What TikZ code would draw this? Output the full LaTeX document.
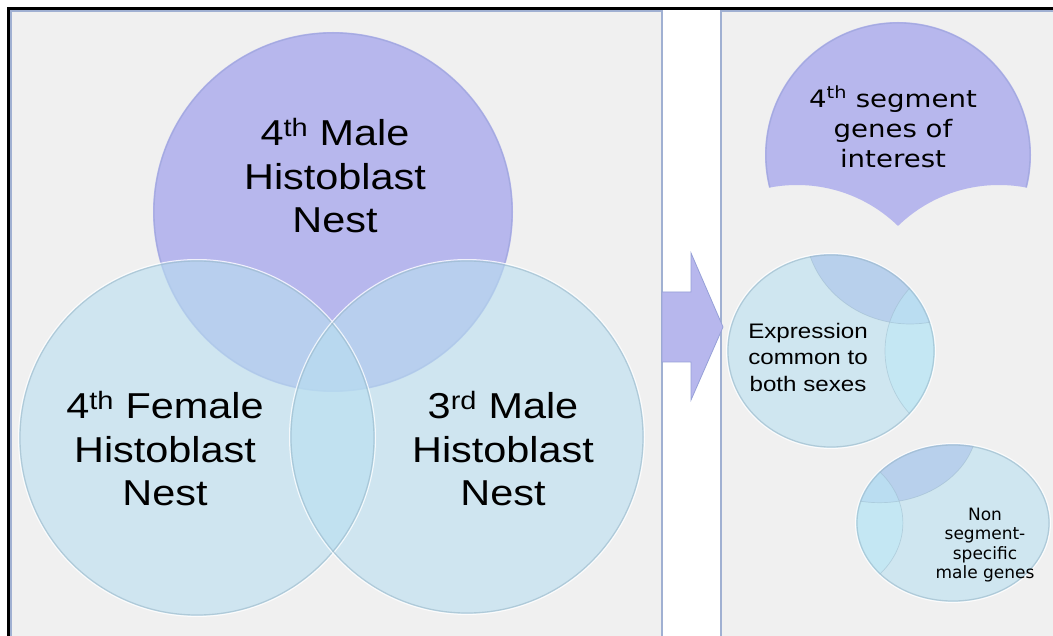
\documentclass[tikz,border=0pt]{standalone}
\usepackage{fontspec}
\setmainfont{Liberation Sans}
\newfontfamily\vennfont[FakeStretch=1.15]{Liberation Sans}
\newfontfamily\verdfont[FakeStretch=1.15]{DejaVu Sans}
\newfontfamily\verdplain{DejaVu Sans}
\definecolor{panelbg}{RGB}{240,240,240}
\definecolor{panelline}{RGB}{160,176,210}
\definecolor{purp}{RGB}{183,183,237}
\definecolor{purpline}{RGB}{150,160,215}
\definecolor{blu}{RGB}{185,223,240}
\definecolor{lb}{RGB}{207,230,240}
\definecolor{capc}{RGB}{184,208,236}
\definecolor{rightc}{RGB}{188,232,246}
\definecolor{rimc}{RGB}{150,180,198}
\tikzset{
  panel/.style={fill=panelbg},
  pborder/.style={draw=panelline, line width=2pt},
  bluecirc/.style={fill=blu, fill opacity=0.6},
  rimline/.style={draw=rimc, draw opacity=0.55, line width=1.2pt},
  hiline/.style={draw=white, draw opacity=0.8, line width=1pt},
  innerline/.style={draw=rimc, draw opacity=0.45, line width=0.7pt},
  bigtext/.style={font=\vennfont\fontsize{36}{43.5}\selectfont, align=center, inner sep=0pt},
}
\begin{document}
\begin{tikzpicture}[x=1pt,y=-1pt]
\useasboundingbox (0,0) rectangle (1053,636);
\fill[white] (0,0) rectangle (1053,636);
% panels
\fill[panel] (10,10) rectangle (662,640);
\fill[panel] (721,10) rectangle (1060,640);
\draw[pborder] (11,640) -- (11,11) -- (662,11) -- (662,640);
\draw[pborder] (721,640) -- (721,11) -- (1060,11);
% outer frame
\draw[black, line width=3pt] (8.5,640) -- (8.5,8.5) -- (1060,8.5);

% ---------- left Venn ----------
\fill[purp] (333,212) circle (180pt);
\draw[rimline, draw=purpline] (333,212) circle (179pt);
\fill[bluecirc] (197,438) circle (178pt);
\fill[bluecirc] (467,437) circle (177pt);
\draw[rimline] (197,438) circle (177pt);
\draw[hiline] (197,438) circle (178.5pt);
\draw[rimline] (467,437) circle (176pt);
\draw[hiline] (467,437) circle (177.5pt);

\node[bigtext] (t4m) at (335,176) {4\textsuperscript{th} Male\\Histoblast\\Nest};
\node[bigtext] (t4f) at (165,449) {4\textsuperscript{th} Female\\Histoblast\\Nest};
\node[bigtext] (t3m) at (503,449) {3\textsuperscript{rd} Male\\Histoblast\\Nest};

% ---------- arrow ----------
\fill[purp, draw=purpline, line width=0.8pt] (662,292) -- (691,292) -- (691,253) -- (723,327) -- (691,400) -- (691,362) -- (662,362) -- cycle;

% ---------- right panel: 4th segment piece ----------
\begin{scope}[even odd rule]
  \clip (700,0) rectangle (1060,640) (797,330) circle (145pt);
  \clip (700,0) rectangle (1060,640) (999,330) circle (145pt);
  \fill[purp] (898,155) circle (133pt);
  \draw[rimline, draw=purpline] (898,155) circle (132pt);
\end{scope}
\node[font=\verdfont\fontsize{24}{30}\selectfont, align=center, inner sep=0pt] (tseg) at (893,127) {4\textsuperscript{th} segment\\genes of\\interest};

% ---------- expression piece ----------
\begin{scope}
  \clip (831,351) ellipse [x radius=104pt, y radius=97pt];
  \fill[lb] (831,351) ellipse [x radius=104pt, y radius=97pt];
  \fill[capc] (910,226) ellipse [x radius=105pt, y radius=98pt];
  \fill[rightc, fill opacity=0.55] (989,351) ellipse [x radius=104pt, y radius=97pt];
  \draw[innerline] (910,226) ellipse [x radius=105pt, y radius=98pt];
  \draw[innerline] (989,351) ellipse [x radius=104pt, y radius=97pt];
\end{scope}
\draw[rimline] (831,351) ellipse [x radius=103pt, y radius=96pt];
\draw[hiline] (831,351) ellipse [x radius=104.5pt, y radius=97.5pt];
\node[font=\vennfont\fontsize{21}{26.5}\selectfont, align=center, inner sep=0pt] (texp) at (808,357) {Expression\\common to\\both sexes};

% ---------- non segment-specific piece ----------
\begin{scope}
  \clip (953,523) ellipse [x radius=97pt, y radius=79pt];
  \fill[lb] (953,523) ellipse [x radius=97pt, y radius=79pt];
  \fill[capc] (879.5,422.7) ellipse [x radius=98pt, y radius=80pt];
  \fill[rightc, fill opacity=0.55] (805.9,523) ellipse [x radius=97pt, y radius=79pt];
  \draw[innerline] (879.5,422.7) ellipse [x radius=98pt, y radius=80pt];
  \draw[innerline] (805.9,523) ellipse [x radius=97pt, y radius=79pt];
\end{scope}
\draw[rimline] (953,523) ellipse [x radius=96pt, y radius=78pt];
\draw[hiline] (953,523) ellipse [x radius=97.5pt, y radius=79.5pt];
\node[font=\verdplain\fontsize{17}{19.5}\selectfont, align=center, inner sep=0pt] (tnon) at (985,545) {Non\\segment-\\specific\\male genes};
\end{tikzpicture}
\end{document}
